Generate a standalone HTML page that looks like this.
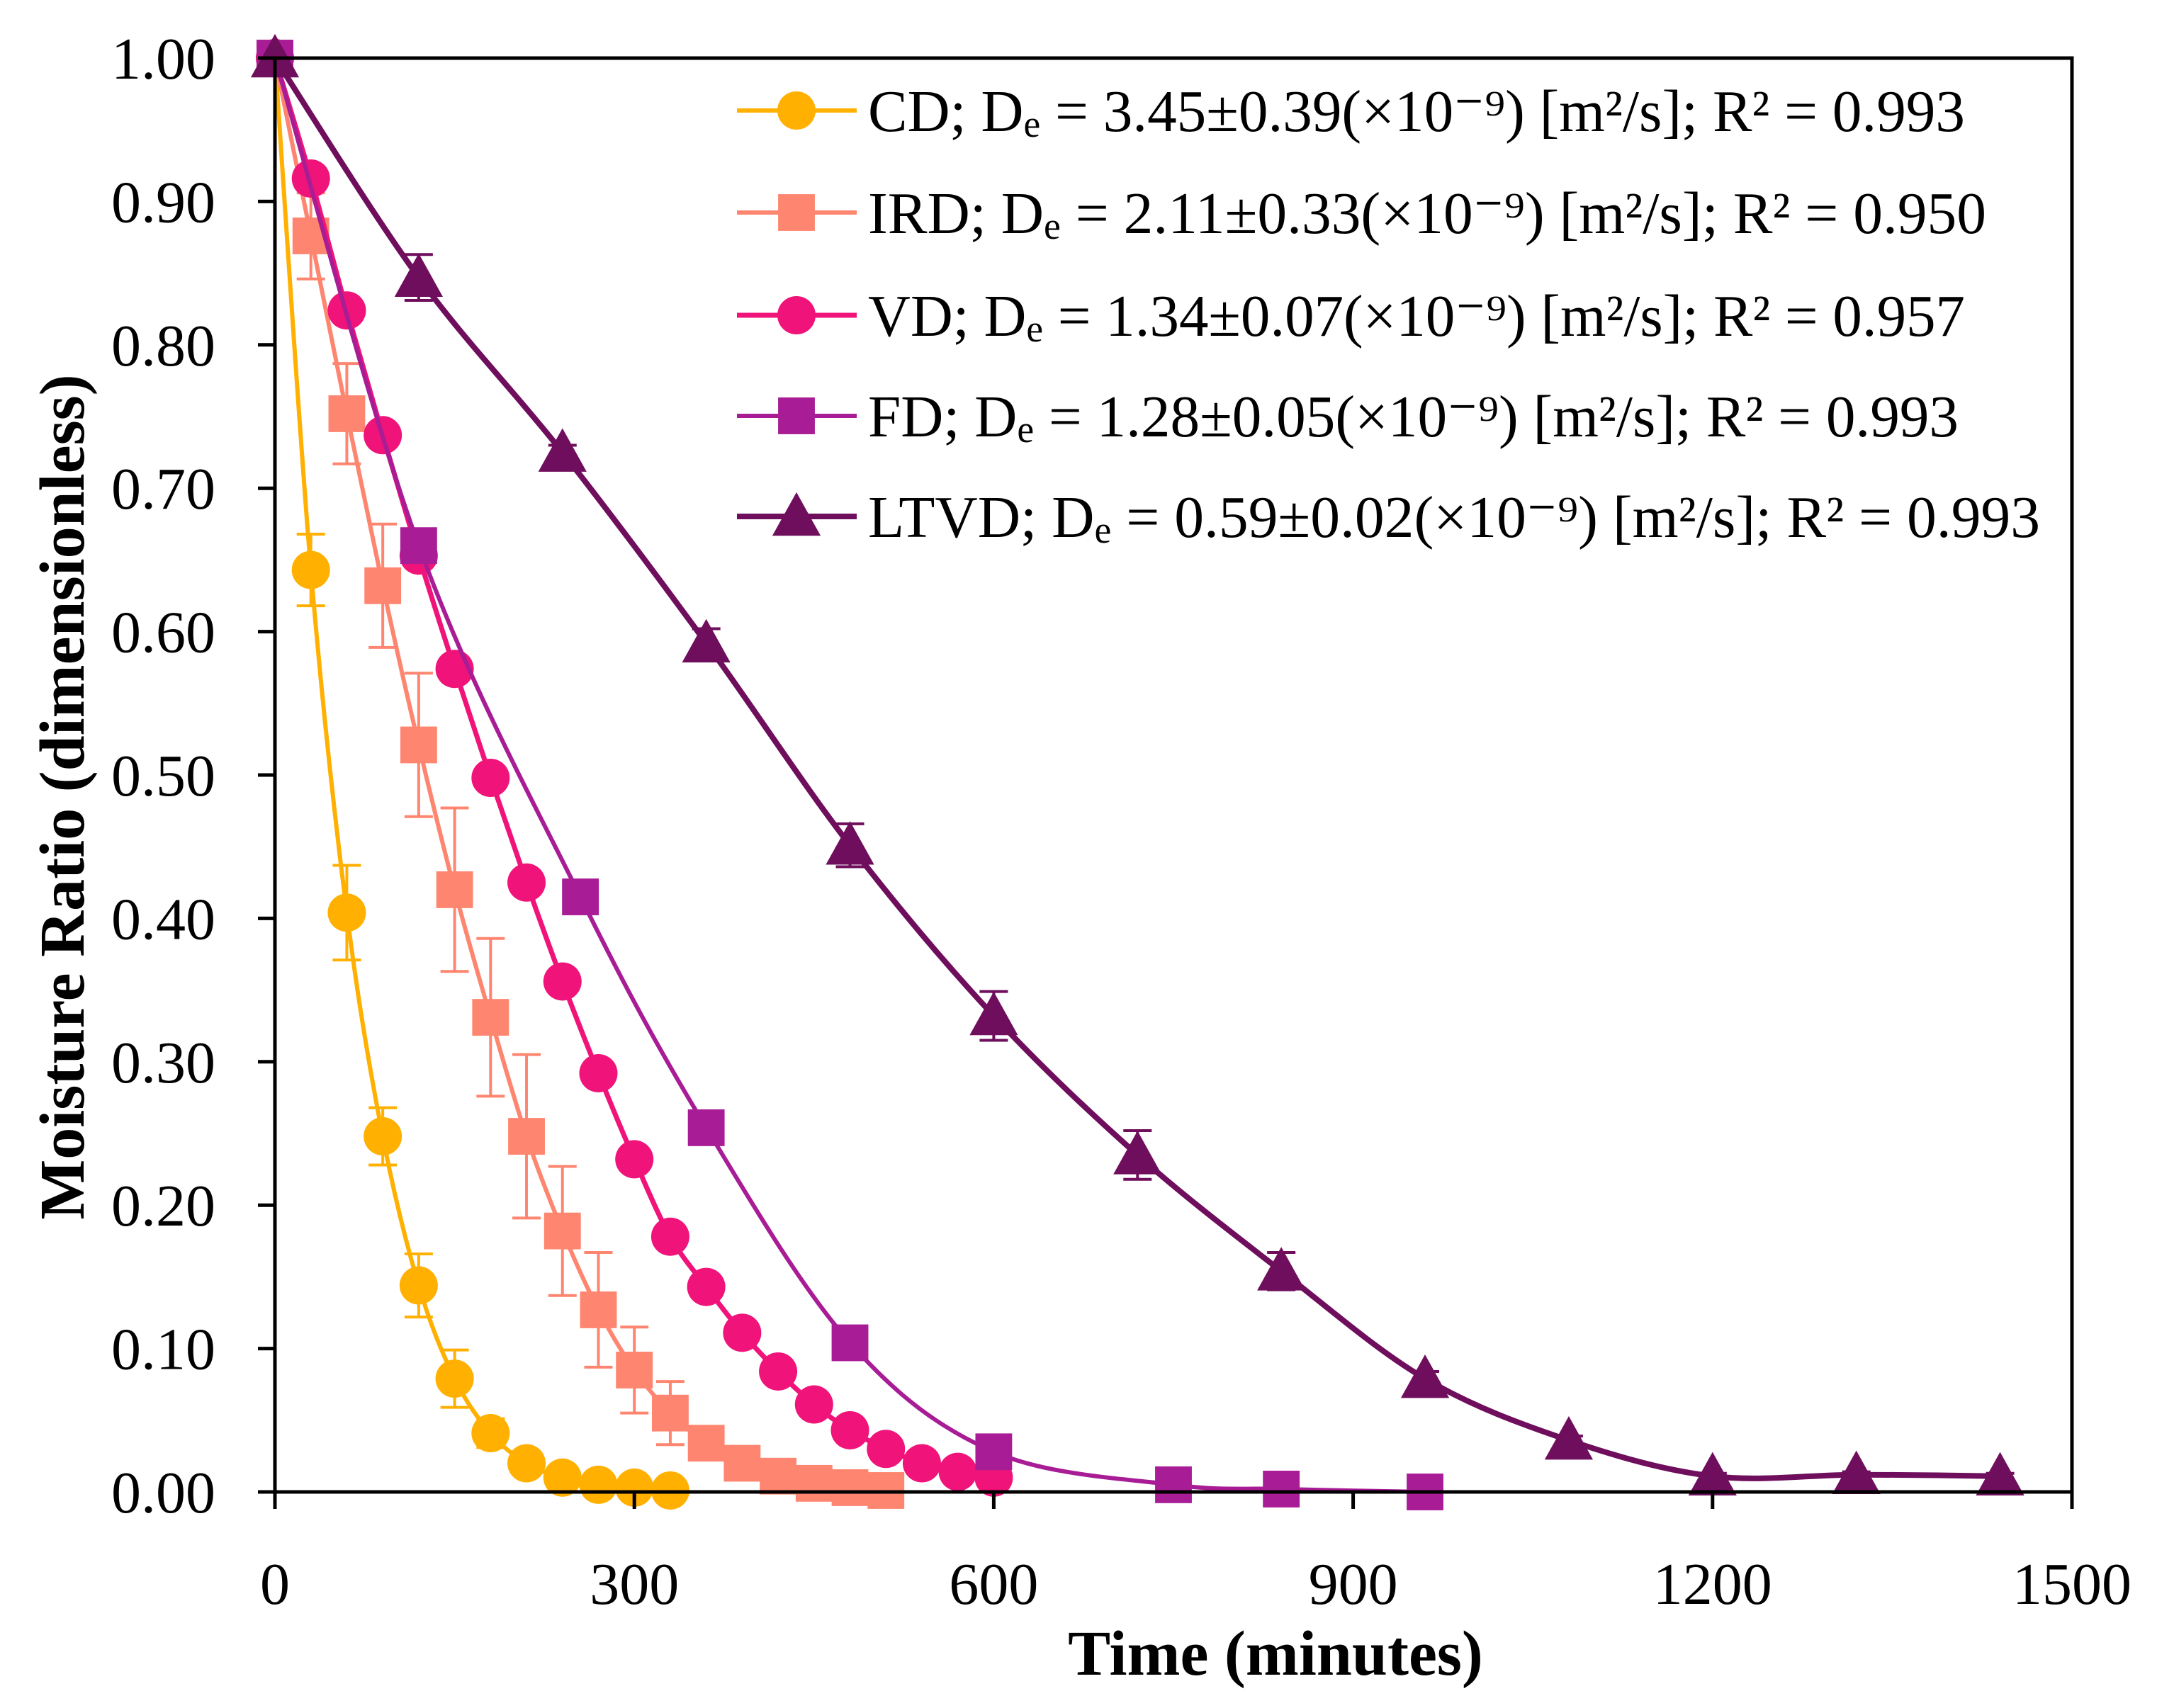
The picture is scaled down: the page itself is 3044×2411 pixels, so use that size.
<!DOCTYPE html>
<html><head><meta charset="utf-8"><style>
html,body{margin:0;padding:0;background:#fff;}
svg{display:block;font-family:"Liberation Serif",serif;}
</style></head><body>
<svg id="chart" width="3044" height="2411" viewBox="0 0 3044 2411" xmlns="http://www.w3.org/2000/svg">
<rect width="3044" height="2411" fill="#fff"/>
<g id="series"></g>
<g id="axes"></g>
<g id="legend"></g>
</svg>
<script>
const xTicks=[0,300,600,900,1200,1500];
const yTicks=[0,0.1,0.2,0.3,0.4,0.5,0.6,0.7,0.8,0.9,1.0];
const seriesNames=["CD","IRD","VD","FD","LTVD"];
const cdX=[0,30,60,90,120,150,180,210,240,270,300,330];
const cdY=[1,0.643,0.404,0.248,0.144,0.079,0.041,0.020,0.010,0.005,0.003,0.001];
const cdE=[0,0.025,0.033,0.02,0.022,0.02,0.01,0.005,0,0,0,0];
const irdX=[0,30,60,90,120,150,180,210,240,270,300,330,360,390,420,450,480,510];
const irdY=[1,0.876,0.752,0.632,0.521,0.420,0.331,0.248,0.182,0.127,0.085,0.055,0.034,0.020,0.011,0.006,0.003,0.001];
const irdE=[0,0.03,0.035,0.043,0.05,0.057,0.055,0.057,0.045,0.04,0.03,0.022,0.01,0.005,0,0,0,0];
const vdX=[0,30,60,90,120,150,180,210,240,270,300,330,360,390,420,450,480,510,540,570,600];
const vdY=[1,0.916,0.824,0.737,0.653,0.574,0.498,0.425,0.356,0.292,0.232,0.178,0.143,0.111,0.084,0.061,0.043,0.030,0.020,0.014,0.010];
const vdE=[0,0,0,0,0,0,0,0,0,0,0,0,0,0,0,0,0,0,0,0,0];
const fdX=[0,120,255,360,480,600,750,840,960];
const fdY=[1,0.660,0.415,0.254,0.104,0.028,0.005,0.002,0.000];
const fdE=[0,0.005,0.005,0.005,0.005,0.005,0,0,0];
const ltX=[0,120,240,360,480,600,720,840,960,1080,1200,1320,1440];
const ltY=[1,0.847,0.725,0.592,0.451,0.332,0.235,0.154,0.079,0.036,0.011,0.012,0.011];
const ltE=[0,0.016,0.005,0.01,0.015,0.017,0.017,0.013,0.005,0.003,0.002,0.002,0.002];
const legendLabels=[
 ["CD; D","e"," = 3.45±0.39(×10⁻⁹) [m²/s]; R² = 0.993"],
 ["IRD; D","e"," = 2.11±0.33(×10⁻⁹) [m²/s]; R² = 0.950"],
 ["VD; D","e"," = 1.34±0.07(×10⁻⁹) [m²/s]; R² = 0.957"],
 ["FD; D","e"," = 1.28±0.05(×10⁻⁹) [m²/s]; R² = 0.993"],
 ["LTVD; D","e"," = 0.59±0.02(×10⁻⁹) [m²/s]; R² = 0.993"]];
const legendWidths=[1548,1578,1548,1539,1654];

const NS="http://www.w3.org/2000/svg";
const L=388,R=2924,T=82,B=2106;
const sx=v=>L+(v-0)/(1500-0)*(R-L);
const sy=v=>B-(v-0)/(1-0)*(B-T);
function mk(tag,attrs,parent){const e=document.createElementNS(NS,tag);for(const k in attrs)e.setAttribute(k,attrs[k]);parent.appendChild(e);return e;}
const colors=["#FFB000","#FE8670","#F0137A","#A81C95","#6E0E5C"];
const markers=["circle","square","circle","square","triangle"];
const data=[[cdX,cdY,cdE],[irdX,irdY,irdE],[vdX,vdY,vdE],[fdX,fdY,fdE],[ltX,ltY,ltE]];
const widths=[6,6,7,6,8];

function smoothPath(pts){
 let d="M"+pts[0][0]+","+pts[0][1];
 for(let i=0;i<pts.length-1;i++){
  const p0=pts[i-1]||pts[i],p1=pts[i],p2=pts[i+1],p3=pts[i+2]||p2;
  const t=1/6;
  const c1=[p1[0]+(p2[0]-p0[0])*t,p1[1]+(p2[1]-p0[1])*t];
  const c2=[p2[0]-(p3[0]-p1[0])*t,p2[1]-(p3[1]-p1[1])*t];
  d+=" C"+c1[0]+","+c1[1]+" "+c2[0]+","+c2[1]+" "+p2[0]+","+p2[1];
 }
 return d;
}
function drawMarker(g,type,cx,cy,col,size){
 let m;
 if(type==="circle"){m=mk("circle",{cx:cx,cy:cy,r:size*0.5,fill:col},g);}
 else if(type==="square"){m=mk("rect",{x:cx-size*0.48,y:cy-size*0.48,width:size*0.96,height:size*0.96,fill:col},g);}
 else{const h=size*0.55;m=mk("polygon",{points:(cx)+","+(cy-h)+" "+(cx+h)+","+(cy+h*0.8)+" "+(cx-h)+","+(cy+h*0.8),fill:col},g);}
 return m;
}
const sg=document.getElementById("series");
data.forEach((s,k)=>{
 const g=mk("g",{},sg);
 
 
 const pts=s[0].map((x,i)=>[sx(x),sy(s[1][i])]);
 const p=mk("path",{d:smoothPath(pts),fill:"none",stroke:colors[k],"stroke-width":widths[k]},g);
 
 
 s[0].forEach((x,i)=>{
  const e=s[2][i];
  if(e>0){
   const cx=sx(x),y1=sy(s[1][i]+e),y2=sy(s[1][i]-e);
   const eb=mk("path",{d:"M"+cx+","+y1+"V"+y2+"M"+(cx-20)+","+y1+"H"+(cx+20)+"M"+(cx-20)+","+y2+"H"+(cx+20),stroke:colors[k],"stroke-width":4,fill:"none"},g);
   
   
  }
  const m=drawMarker(g,markers[k],sx(x),sy(s[1][i]),colors[k],markers[k]==="triangle"?62:54);
  
  
 });
});

const ax=document.getElementById("axes");
const frame=mk("rect",{x:L,y:T,width:R-L,height:B-T,fill:"none",stroke:"#000","stroke-width":5},ax);


yTicks.forEach(v=>{
 const y=sy(v);
 const t=mk("line",{x1:L-24,x2:L,y1:y,y2:y,stroke:"#000","stroke-width":5},ax);
 
 
 const tx=mk("text",{x:304,y:y+29,"text-anchor":"end","font-size":84},ax);
 tx.textContent=v.toFixed(2);
 
 
});
xTicks.forEach(v=>{
 const x=sx(v);
 const t=mk("line",{x1:x,x2:x,y1:B,y2:B+24,stroke:"#000","stroke-width":5},ax);
 
 
 const tx=mk("text",{x:x,y:2264,"text-anchor":"middle","font-size":84},ax);
 tx.textContent=String(v);
 
 
});
const xt=mk("text",{x:1800,y:2364,"text-anchor":"middle","font-size":90,"font-weight":"bold"},ax);
xt.textContent="Time (minutes)";


const yt=mk("text",{x:0,y:0,"text-anchor":"middle","font-size":90,"font-weight":"bold",transform:"translate(118,1125) rotate(-90)"},ax);
yt.textContent="Moisture Ratio (dimensionless)";



const lg=document.getElementById("legend");
const ly=[156,300,445,587,729];
legendLabels.forEach((lab,k)=>{
 const g=mk("g",{},lg);
 
 
 mk("line",{x1:1040,x2:1209,y1:ly[k],y2:ly[k],stroke:colors[k],"stroke-width":widths[k]},g);
 drawMarker(g,markers[k],1124,ly[k],colors[k],markers[k]==="triangle"?62:54);
 const t=mk("text",{x:1225,y:ly[k]+29,"font-size":84,textLength:legendWidths[k],lengthAdjust:"spacingAndGlyphs"},g);
 const a=mk("tspan",{},t);a.textContent=lab[0];
 const b=mk("tspan",{"font-size":54,dy:8},t);b.textContent=lab[1];
 const c=mk("tspan",{dy:-8},t);c.textContent=lab[2];
});
</script>
</body></html>
